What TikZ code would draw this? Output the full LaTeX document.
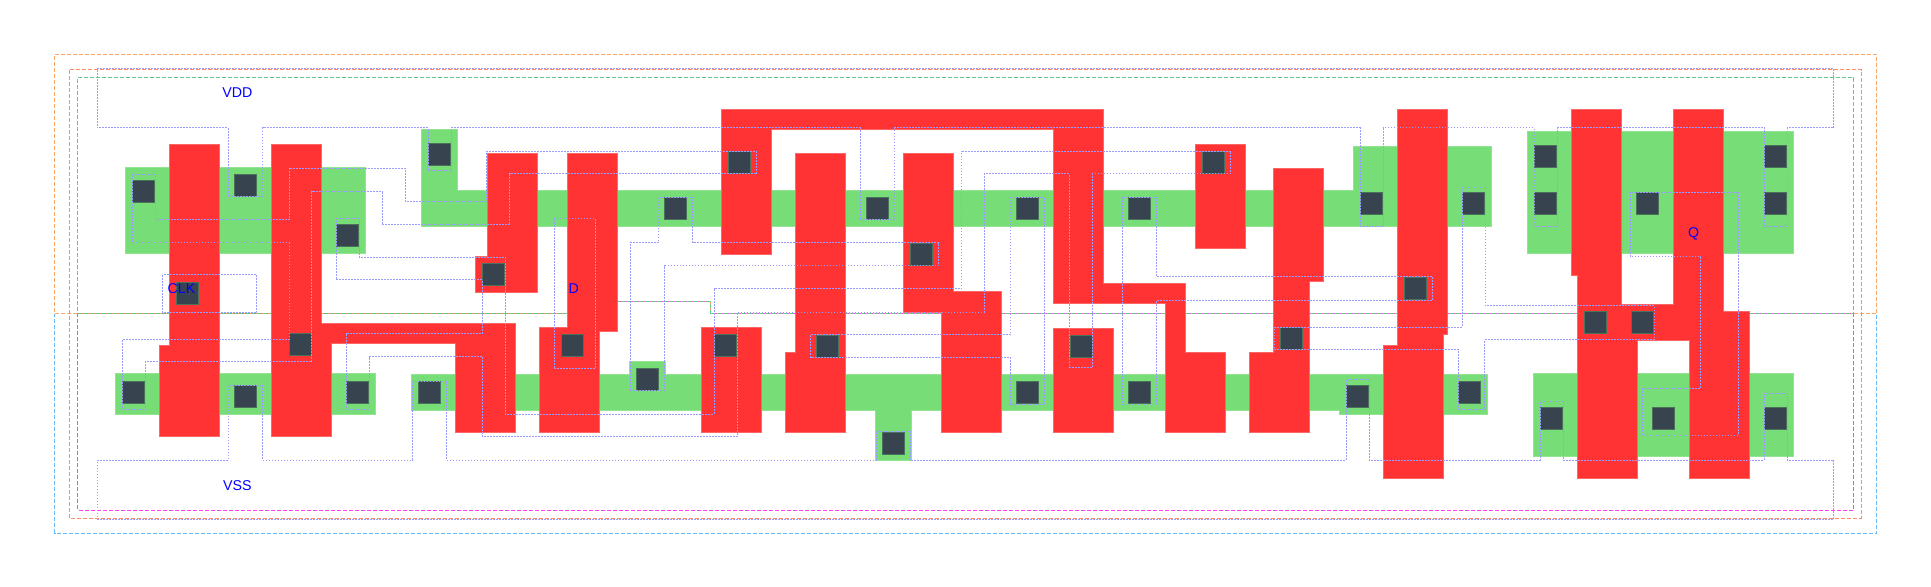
\documentclass[tikz,border=0pt]{standalone}
\usepackage{fontspec}
\setmainfont{Liberation Sans}
\definecolor{wellA}{HTML}{FFA566}
\definecolor{wellB}{HTML}{FF8C66}
\definecolor{wellC}{HTML}{66C78C}
\definecolor{wellD}{HTML}{FF44EE}
\definecolor{wellE}{HTML}{66BBFF}
\definecolor{diffcol}{HTML}{77DD77}
\definecolor{polycol}{HTML}{FF3333}
\definecolor{contcol}{HTML}{37434F}
\definecolor{metalcol}{HTML}{9C9CFF}
\tikzset{
  welline/.style={line width=0.5pt,dash pattern=on 2pt off 1pt},
  diffusion/.style={fill=diffcol,draw=diffcol!80!white,line width=0.5pt},
  polysil/.style={fill=polycol,draw=polycol!75!white,line width=0.5pt},
  contact/.style={fill=contcol,draw=contcol!70!diffcol,line width=0.5pt},
  metal/.style={draw=metalcol,line width=0.5pt,dash pattern=on 0.9pt off 0.6pt},
  pinlabel/.style={text=blue,font=\fontsize{7.1}{8}\selectfont,inner sep=0pt}
}
\begin{document}
\begin{tikzpicture}[x=0.5pt,y=-0.5pt]
  \useasboundingbox (0,0) rectangle (1931,587);
  \begin{scope}[shift={(0,0.7)}]
  % wells
  \draw[welline,wellE] (54.7,313.3) -- (590,313.3) -- (590,300.7) -- (710,300.7) -- (710,313.3) -- (1876.7,313.3) -- (1876.7,532.3) -- (54.7,532.3) -- cycle;
  \draw[welline,wellA] (54.7,54.3) -- (1876.7,54.3) -- (1876.7,313.3) -- (710,313.3) -- (710,300.7) -- (590,300.7) -- (590,313.3) -- (54.7,313.3) -- cycle;
  \draw[welline,wellB] (69.3,69.3) rectangle (1861.7,517.3);
  \draw[welline,wellD] (77.7,313.3) -- (590,313.3) -- (590,300.7) -- (710,300.7) -- (710,313.3) -- (1853.7,313.3) -- (1853.7,509.3) -- (77.7,509.3) -- cycle;
  \draw[welline,wellC] (77.7,77.3) -- (1853.7,77.3) -- (1853.7,313.3) -- (710,313.3) -- (710,300.7) -- (590,300.7) -- (590,313.3) -- (77.7,313.3) -- cycle;
  % diffusion
  \draw[diffusion] (125.7,167) rectangle (365.7,253.3);
  \draw[diffusion] (421.7,129.3) -- (457.7,129.3) -- (457.7,190) -- (1353.7,190) -- (1353.7,145.7) -- (1491.7,145.7) -- (1491.7,225.7) -- (421.7,225.7) -- cycle;
  \draw[diffusion] (1527.3,131.3) rectangle (1793.3,253.3);
  \draw[diffusion] (115.7,373.3) rectangle (375.7,413.7);
  \draw[diffusion] (411.7,373.7) -- (629.7,373.7) -- (629.7,361) -- (665.3,361) -- (665.3,373.7) -- (1487.7,373.7) -- (1487.7,413.7) -- (1339.3,413.7) -- (1339.3,410) -- (911.7,410) -- (911.7,460) -- (875.7,460) -- (875.7,410) -- (411.7,410) -- cycle;
  \draw[diffusion] (1533.7,373.3) rectangle (1793.3,455.3);
  % poly
  \draw[polysil] (169.7,144.3) -- (219.7,144.3) -- (219.7,435.7) -- (159.7,435.7) -- (159.7,345.3) -- (169.7,345.3) -- cycle;
  \draw[polysil] (271.7,144.3) -- (321.7,144.3) -- (321.7,323.3) -- (515.7,323.3) -- (515.7,431.7) -- (455.7,431.7) -- (455.7,343.3) -- (331.7,343.3) -- (331.7,435.7) -- (271.7,435.7) -- cycle;
  \draw[polysil] (487.7,153.3) -- (537.7,153.3) -- (537.7,291.7) -- (475.7,291.7) -- (475.7,256) -- (487.7,256) -- cycle;
  \draw[polysil] (567.7,153.3) -- (617.7,153.3) -- (617.7,330.7) -- (599.7,330.7) -- (599.7,431.7) -- (539.7,431.7) -- (539.7,327.3) -- (567.7,327.3) -- cycle;
  \draw[polysil] (721.7,109.3) -- (1103,109.3) -- (1103,283.3) -- (1185.7,283.3) -- (1185.7,352) -- (1225.7,352) -- (1225.7,431.7) -- (1165.7,431.7) -- (1165.7,303.3) -- (1053,303.3) -- (1053,129.3) -- (771.7,129.3) -- (771.7,253.7) -- (721.7,253.7) -- cycle;
  \draw[polysil] (701.7,327.3) rectangle (761.7,431.7);
  \draw[polysil] (795.7,153.3) -- (845.7,153.3) -- (845.7,431.7) -- (785.7,431.7) -- (785.7,352) -- (795.7,352) -- cycle;
  \draw[polysil] (903.7,153.3) -- (953.7,153.3) -- (953.7,291.3) -- (1001.7,291.3) -- (1001.7,431.7) -- (941.7,431.7) -- (941.7,311.7) -- (903.7,311.7) -- cycle;
  \draw[polysil] (1053.7,327.7) rectangle (1113.7,431.7);
  \draw[polysil] (1195.7,143.7) rectangle (1245.7,247.7);
  \draw[polysil] (1273.7,167.7) -- (1323.7,167.7) -- (1323.7,281.3) -- (1309.7,281.3) -- (1309.7,431.7) -- (1249.7,431.7) -- (1249.7,352) -- (1273.7,352) -- cycle;
  \draw[polysil] (1397.3,109.3) -- (1447.7,109.3) -- (1447.7,333.7) -- (1443.3,333.7) -- (1443.3,477.3) -- (1383.7,477.3) -- (1383.7,345.3) -- (1397.3,345.3) -- cycle;
  \draw[polysil] (1571.7,109.3) -- (1621.7,109.3) -- (1621.7,304.3) -- (1673.7,304.3) -- (1673.7,109.3) -- (1723.7,109.3) -- (1723.7,311) -- (1749.7,311) -- (1749.7,477.3) -- (1689.7,477.3) -- (1689.7,340.3) -- (1637.7,340.3) -- (1637.7,477.3) -- (1577.7,477.3) -- (1577.7,275.3) -- (1571.7,275.3) -- cycle;
  % contacts
  \foreach \cx/\cy in {143.7/191.3,245.7/184.7,347.7/235.3,439.7/153.7,493.7/273.7,187.7/292.7,300.7/344.3,133.7/391.3,245.7/395.7,357.7/391.3,429.7/392,739.7/161.7,675.7/207.7,877.7/207.7,921.7/253.7,572/345,647.7/379,725.7/345,827.7/345.7,893.7/442.3,1027/207.7,1139.7/207.7,1213.7/161.7,1371.7/203.3,1415.7/288,1027.7/391.7,1081/346,1139.7/391.7,1291.7/338,1357.7/395.7,1545.7/156.3,1545.7/203.3,1647.7/203.3,1775.7/156.3,1775.7/203.3,1473.7/203.3,1469.7/391.7,1595.7/322.3,1642.7/322.3,1551.7/417.3,1663.7/417.3,1775.7/417.3}
    \draw[contact] (\cx-11,\cy-11) rectangle (\cx+11,\cy+11);
  % metal
  \draw[metal] (97.3,67.7) -- (1833.7,67.7) -- (1833.7,127.3) -- (1787.3,127.3) -- (1787.3,225.7) -- (1764.3,225.7) -- (1764.3,127.3) -- (1557.3,127.3) -- (1557.3,225.7) -- (1534,225.7) -- (1534,127.3) -- (1383.3,127.3) -- (1383.3,225.7) -- (1360.3,225.7) -- (1360.3,127.3) -- (894.7,127.3) -- (894.7,219.3) -- (860.3,219.3) -- (860.3,127.3) -- (451.3,127.3) -- (451.3,170.3) -- (428.3,170.3) -- (428.3,127.3) -- (262.7,127.3) -- (262.7,196.3) -- (228.3,196.3) -- (228.3,127.3) -- (97.3,127.3) -- cycle;
  \draw[metal] (97.3,519) -- (1833.7,519) -- (1833.7,459.3) -- (1787.3,459.3) -- (1787.3,392.3) -- (1764,392.3) -- (1764,459.3) -- (1563.3,459.3) -- (1563.3,400.7) -- (1540.3,400.7) -- (1540.3,459.3) -- (1369,459.3) -- (1369,378.7) -- (1346.3,378.7) -- (1346.3,459.3) -- (910.7,459.3) -- (910.7,430.7) -- (876.7,430.7) -- (876.7,459.3) -- (446.3,459.3) -- (446.3,380.3) -- (412.7,380.3) -- (412.7,459.3) -- (262.3,459.3) -- (262.3,384.7) -- (228.3,384.7) -- (228.3,459.3) -- (97.3,459.3) -- cycle;
  \draw[metal] (132.3,173.7) -- (155,173.7) -- (155,219.3) -- (289,219.3) -- (289,167.7) -- (405,167.7) -- (405,200.7) -- (486.7,200.7) -- (486.7,150.7) -- (756.7,150.7) -- (756.7,173.3) -- (509.7,173.3) -- (509.7,224.3) -- (382.3,224.3) -- (382.3,191.3) -- (311.7,191.3) -- (311.7,361) -- (145.3,361) -- (145.3,408.3) -- (122.3,408.3) -- (122.3,338.7) -- (289,338.7) -- (289,242.3) -- (132.3,242.3) -- cycle;
  \draw[metal] (336.3,218.3) -- (359.3,218.3) -- (359.3,256.7) -- (505,256.7) -- (505,413.3) -- (714,413.3) -- (714,288.3) -- (961.7,288.3) -- (961.7,150.7) -- (1230.7,150.7) -- (1230.7,173.3) -- (1092.3,173.3) -- (1092.3,366.7) -- (1069.3,366.7) -- (1069.3,173.3) -- (984.3,173.3) -- (984.3,311.5) -- (737,311.5) -- (737,436) -- (482.3,436) -- (482.3,356.3) -- (369,356.3) -- (369,408.3) -- (346,408.3) -- (346,333.3) -- (482.3,333.3) -- (482.3,279.3) -- (336.3,279.3) -- cycle;
  \draw[metal] (162.7,274.3) rectangle (256.7,312.3);
  \draw[metal] (554.3,218.3) rectangle (595.3,368.3);
  \draw[metal] (658.7,196.7) -- (692.7,196.7) -- (692.7,242.3) -- (938.7,242.3) -- (938.7,265.3) -- (664.7,265.3) -- (664.7,390) -- (630,390) -- (630,242.3) -- (658.7,242.3) -- cycle;
  \draw[metal] (810.7,334.3) -- (1010,334.3) -- (1010,196.7) -- (1044.7,196.7) -- (1044.7,403.3) -- (1010.7,403.3) -- (1010.7,357.3) -- (810.7,357.3) -- cycle;
  \draw[metal] (1122.7,196.7) -- (1156.7,196.7) -- (1156.7,276.3) -- (1432.7,276.3) -- (1432.7,299.7) -- (1156.7,299.7) -- (1156.7,403.3) -- (1122.7,403.3) -- cycle;
  \draw[metal] (1274.3,326.5) -- (1462.3,326.5) -- (1462.3,186.7) -- (1485.3,186.7) -- (1485.3,305) -- (1654.3,305) -- (1654.3,339.3) -- (1484.7,339.3) -- (1484.7,408.3) -- (1458.7,408.3) -- (1458.7,349.3) -- (1274.3,349.3) -- cycle;
  \draw[metal] (1630.7,191.7) -- (1738.7,191.7) -- (1738.7,434.3) -- (1642.7,434.3) -- (1642.7,387.3) -- (1700.7,387.3) -- (1700.7,256.3) -- (1630.7,256.3) -- cycle;
  % labels
  \node[pinlabel] (vdd) at (237.3,92.3) {VDD};
  \node[pinlabel] (vss) at (237.3,485) {VSS};
  \node[pinlabel] (clk) at (181.5,288.3) {CLK};
  \node[pinlabel] (d) at (573.7,288.3) {D};
  \node[pinlabel] (q) at (1693.7,233.5) {Q};
  \end{scope}
\end{tikzpicture}
\end{document}
